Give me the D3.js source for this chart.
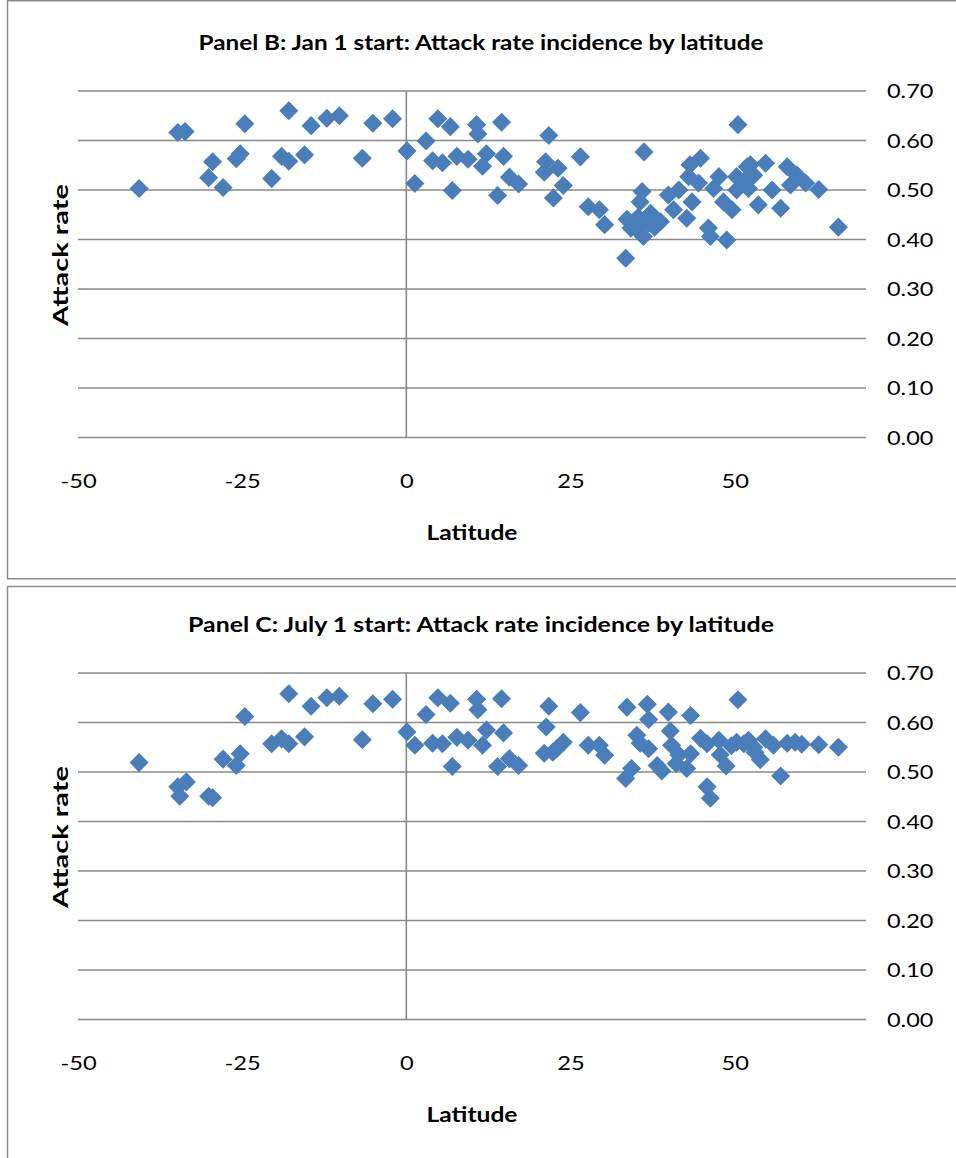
<!DOCTYPE html>
<html>
<head>
<meta charset="utf-8">
<script src="https://cdn.jsdelivr.net/npm/d3@7"></script>
<style>
  html, body { margin: 0; padding: 0; background: #ffffff; }
  svg { display: block; }
  text { font-family: Lato, "Open Sans", "Liberation Sans", sans-serif; fill: #000; }
</style>
</head>
<body>
<svg id="chart" width="956" height="1158"></svg>
<script>
// Latitude (degrees) and simulated attack rate, Jan 1 start
const latitudeB = [-40.7,-34.8,-33.7,-30.1,-29.5,-27.9,-25.9,-25.3,-24.6,-20.5,-19.0,-17.9,-17.9,-15.5,-14.5,-12.1,-10.2,-6.7,-5.1,-2.1,
  0.1,1.3,3.0,4.0,4.8,5.5,6.7,7.0,7.7,9.4,10.7,10.9,11.6,12.2,13.9,14.5,14.8,15.7,17.1,21.0,21.2,21.7,22.4,23.1,23.9,26.5,27.7,29.4,30.2,
  33.4,33.6,34.2,34.9,35.3,35.6,35.9,36.1,36.2,36.9,37.2,37.8,38.7,39.9,40.7,41.5,42.7,43.0,43.2,43.5,44.5,44.8,46.0,46.3,46.8,47.6,48.3,48.8,49.6,
  50.3,50.3,50.5,51.4,51.9,52.1,52.4,52.9,53.6,54.7,55.7,57.0,58.0,58.5,59.5,60.8,62.8,65.8];
const attackRateB = [0.503,0.616,0.618,0.525,0.557,0.505,0.563,0.573,0.634,0.523,0.568,0.660,0.558,0.571,0.630,0.645,0.650,0.564,0.635,0.644,
  0.579,0.513,0.599,0.559,0.644,0.555,0.628,0.499,0.568,0.562,0.632,0.613,0.548,0.573,0.489,0.637,0.568,0.526,0.512,0.536,0.557,0.610,0.484,0.544,0.509,0.567,0.466,0.460,0.430,
  0.362,0.441,0.423,0.423,0.445,0.476,0.497,0.406,0.577,0.433,0.453,0.425,0.436,0.490,0.460,0.500,0.443,0.527,0.551,0.476,0.514,0.564,0.423,0.406,0.503,0.527,0.476,0.399,0.460,
  0.527,0.500,0.632,0.517,0.547,0.503,0.551,0.530,0.470,0.554,0.500,0.463,0.547,0.510,0.530,0.514,0.501,0.425];

// Latitude (degrees) and simulated attack rate, July 1 start
const latitudeC = [-40.7,-34.8,-34.5,-33.5,-30.1,-29.5,-27.9,-25.9,-25.3,-24.6,-20.5,-19.0,-17.9,-17.9,-15.5,-14.5,-12.1,-10.2,-6.7,-5.1,-2.1,
  0.1,1.3,3.0,4.0,4.8,5.5,6.7,7.0,7.7,9.4,10.7,10.9,11.6,12.2,13.9,14.5,14.8,15.7,17.1,21.0,21.3,21.7,22.3,22.9,23.9,26.5,27.7,29.4,30.2,
  33.4,33.6,34.3,35.1,35.6,36.7,36.9,36.9,38.2,38.9,39.9,40.2,40.4,41.1,41.5,42.7,43.3,43.3,44.8,45.8,45.8,46.3,47.6,47.8,48.7,49.5,
  50.3,50.5,51.4,52.1,52.9,53.1,53.9,54.7,55.9,57.0,58.0,59.2,60.2,62.8,65.8];
const attackRateC = [0.519,0.470,0.451,0.480,0.451,0.448,0.526,0.513,0.537,0.612,0.557,0.567,0.557,0.658,0.571,0.633,0.650,0.653,0.565,0.638,0.647,
  0.581,0.554,0.616,0.558,0.650,0.557,0.639,0.511,0.570,0.564,0.647,0.626,0.554,0.585,0.511,0.648,0.579,0.527,0.513,0.538,0.591,0.633,0.540,0.547,0.560,0.620,0.554,0.554,0.534,
  0.487,0.631,0.507,0.574,0.558,0.637,0.606,0.547,0.513,0.502,0.621,0.583,0.554,0.517,0.535,0.507,0.614,0.537,0.568,0.557,0.470,0.447,0.564,0.535,0.512,0.553,
  0.560,0.646,0.557,0.564,0.550,0.540,0.525,0.567,0.554,0.492,0.558,0.560,0.556,0.555,0.550];

const xTickValues = [-50, -25, 0, 25, 50];
const yTickValues = [0, 0.1, 0.2, 0.3, 0.4, 0.5, 0.6, 0.7];
const titleB = "Panel B: Jan 1 start: Attack rate incidence by latitude";
const titleC = "Panel C: July 1 start: Attack rate incidence by latitude";
const xLabel = "Latitude";
const yLabel = "Attack rate";

const panels = [
  { title: titleB, lat: latitudeB, rate: attackRateB, top: 0, titleWidth: 565 },
  { title: titleC, lat: latitudeC, rate: attackRateC, top: 582, titleWidth: 586 }
];

const svg = d3.select("#chart");
const gridColor = "#898989";
const markerColor = "#4a7ebb";

// widen rendered text by factor k (chart text is set wide)
function stretch(sel, k) {
  sel.each(function () {
    const w = this.getComputedTextLength();
    this.setAttribute("textLength", (w * k).toFixed(1));
    this.setAttribute("lengthAdjust", "spacingAndGlyphs");
  });
}
function fitWidth(sel, w) {
  sel.attr("textLength", w).attr("lengthAdjust", "spacingAndGlyphs");
}

const x = d3.scaleLinear().domain([-50, 70]).range([78, 866]);
const diamond = d3.symbol().type(d3.symbolSquare).size(182);

panels.forEach((p, i) => {
  const g = svg.append("g").attr("transform", `translate(0,${p.top})`);

  // chart area frame
  g.append("rect")
    .attr("x", 7.5).attr("y", i === 0 ? 0.75 : 4.5)
    .attr("width", 970).attr("height", i === 0 ? 578 : 700)
    .attr("fill", "none").attr("stroke", "#8c8c8c").attr("stroke-width", 1.5);

  const y = d3.scaleLinear().domain([0, 0.7]).range([437.5, 91]);

  // horizontal gridlines
  g.append("g").selectAll("line").data(yTickValues).join("line")
    .attr("x1", x(-50)).attr("x2", x(70))
    .attr("y1", d => y(d)).attr("y2", d => y(d))
    .attr("stroke", gridColor).attr("stroke-width", 1.6);

  // vertical axis line at latitude 0
  g.append("line")
    .attr("x1", x(0)).attr("x2", x(0))
    .attr("y1", y(0.7)).attr("y2", y(0))
    .attr("stroke", gridColor).attr("stroke-width", 1.6);

  // y tick labels on the right
  const yAxis = g.append("g")
    .attr("transform", `translate(${x(70)},0)`)
    .call(d3.axisRight(y).tickValues(yTickValues).tickFormat(d3.format(".2f")).tickSize(0).tickPadding(21));
  yAxis.select(".domain").remove();
  yAxis.selectAll("text")
    .attr("font-family", "Lato, 'Open Sans', sans-serif")
    .attr("font-size", 18.5).attr("fill", "#000")
    .attr("dy", "0.36em")
    .call(stretch, 1.27);

  // x tick labels (plain hyphen for negatives)
  const xAxis = g.append("g")
    .attr("transform", `translate(0,${y(0)})`)
    .call(d3.axisBottom(x).tickValues(xTickValues).tickFormat(d => String(d)).tickSize(0));
  xAxis.select(".domain").remove();
  xAxis.selectAll("text")
    .attr("font-family", "Lato, 'Open Sans', sans-serif")
    .attr("font-size", 20).attr("fill", "#000")
    .attr("y", 50.5).attr("dy", null)
    .call(stretch, 1.18);

  // markers
  g.append("g").selectAll("path").data(d3.range(p.lat.length)).join("path")
    .attr("d", diamond)
    .attr("transform", k => `translate(${x(p.lat[k])},${y(p.rate[k])}) rotate(45)`)
    .attr("fill", markerColor);

  // chart title
  g.append("text")
    .attr("x", 481).attr("y", 50)
    .attr("text-anchor", "middle")
    .attr("font-weight", "bold").attr("font-size", 20)
    .text(p.title)
    .call(fitWidth, p.titleWidth);

  // axis titles
  g.append("text")
    .attr("x", 472).attr("y", 540)
    .attr("text-anchor", "middle")
    .attr("font-weight", "bold").attr("font-size", 20)
    .text(xLabel)
    .call(fitWidth, 91);

  g.append("text")
    .attr("transform", "translate(68,255) rotate(-90)")
    .attr("text-anchor", "middle")
    .attr("font-weight", "bold").attr("font-size", 20)
    .text(yLabel)
    .call(fitWidth, 142);
});
</script>
</body>
</html>
